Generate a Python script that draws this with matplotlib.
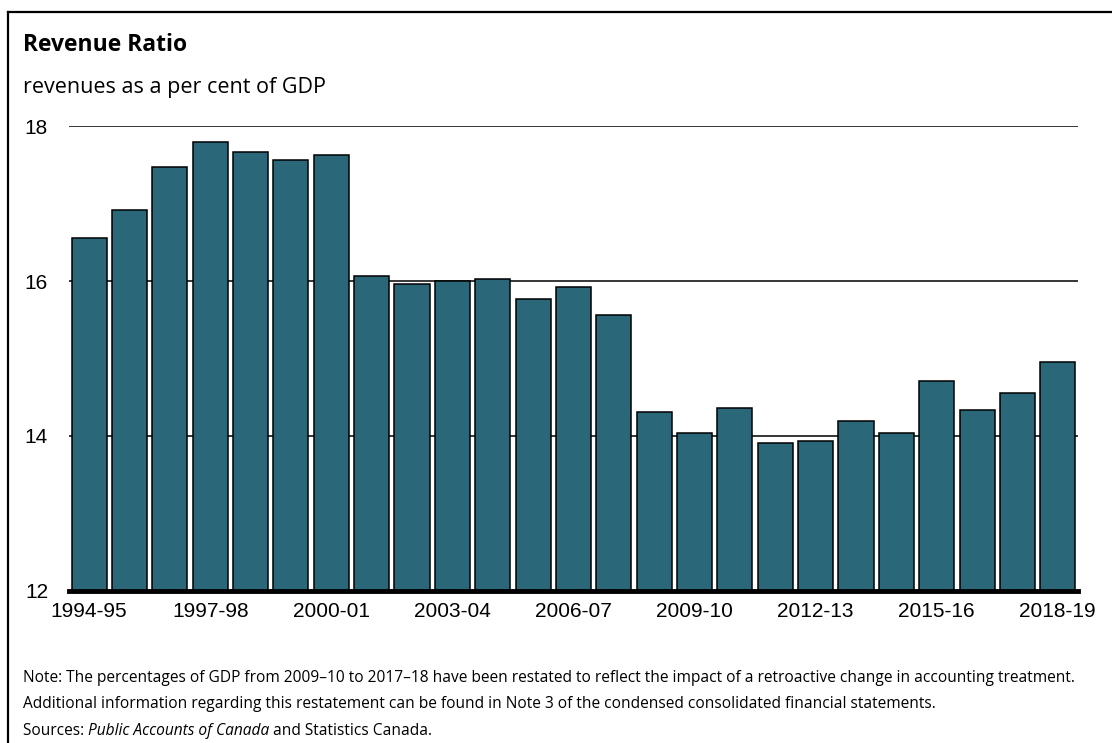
import numpy as np
import matplotlib
matplotlib.use("Agg")
import matplotlib.pyplot as plt
from matplotlib.lines import Line2D

# fiscal years and revenue ratio (per cent of GDP)
years = ["1994-95", "1995-96", "1996-97", "1997-98", "1998-99", "1999-00",
         "2000-01", "2001-02", "2002-03", "2003-04", "2004-05", "2005-06",
         "2006-07", "2007-08", "2008-09", "2009-10", "2010-11", "2011-12",
         "2012-13", "2013-14", "2014-15", "2015-16", "2016-17", "2017-18",
         "2018-19"]
ratio = [16.55, 16.91, 17.47, 17.79, 17.66, 17.56, 17.62, 16.07, 15.96,
         16.00, 16.03, 15.77, 15.92, 15.56, 14.31, 14.04, 14.36, 13.91,
         13.94, 14.19, 14.04, 14.71, 14.34, 14.55, 14.96]
y_ticks = [12, 14, 16, 18]

bar_color = "#2a6778"
tick_font = "Liberation Sans"
text_font = ["Open Sans", "DejaVu Sans"]

W, H = 1112, 743
fig = plt.figure(figsize=(W / 100, H / 100), dpi=100)
ax = fig.add_axes([0.062, 0.2046, 0.9074, 0.6258])

x = np.arange(len(years))
ax.bar(x, ratio, width=0.87, color=bar_color, edgecolor="black",
       linewidth=1.1, zorder=3)

ax.set_xlim(-0.5, len(years) - 0.5)
ax.set_ylim(12, 18)
ax.set_yticks(y_ticks)
ax.set_yticklabels([str(t) for t in y_ticks], family=tick_font, fontsize=15)
ax.set_xticks(x[::3])
ax.set_xticklabels(years[::3], family=tick_font, fontsize=15)
ax.tick_params(axis="y", length=0, pad=15)
ax.tick_params(axis="x", length=0, pad=8)

for t in y_ticks[1:]:
    ax.axhline(t, color="black", linewidth=1.1, zorder=1)

for s in ["top", "right", "left"]:
    ax.spines[s].set_visible(False)
ax.spines["bottom"].set_linewidth(3.5)
ax.spines["bottom"].set_zorder(4)

# frame: top and left rules only
fig.add_artist(Line2D([8 / W, 1.0], [1 - 12 / H] * 2,
                      transform=fig.transFigure, color="black", linewidth=1.6))
fig.add_artist(Line2D([8 / W] * 2, [0.0, 1 - 12 / H],
                      transform=fig.transFigure, color="black", linewidth=1.6))

fig.text(23 / W, 1 - 45 / H, "Revenue Ratio", family=text_font,
         fontsize=16.5, fontweight="bold", va="center")
fig.text(23 / W, 1 - 88 / H, "revenues as a per cent of GDP",
         family=text_font, fontsize=15.5, va="center")

note = ("Note: The percentages of GDP from 2009\u201310 to 2017\u201318 have been "
        "restated to reflect the impact of a retroactive change in accounting treatment.")
note2 = ("Additional information regarding this restatement can be found in Note 3 "
         "of the condensed consolidated financial statements.")
fs_note = 11.2
fig.text(23 / W, 1 - 678 / H, note, family=text_font, fontsize=fs_note,
         va="center")
fig.text(23 / W, 1 - 704 / H, note2, family=text_font, fontsize=fs_note,
         va="center")

# sources line with the italic title set in its own run
fig.canvas.draw()
renderer = fig.canvas.get_renderer()
xpos = 23 / W
for part, style in [("Sources: ", "normal"), ("Public Accounts of Canada", "italic"),
                    (" and Statistics Canada.", "normal")]:
    t = fig.text(xpos, 1 - 731 / H, part, family=text_font, fontsize=fs_note,
                 style=style, va="center")
    bb = t.get_window_extent(renderer=renderer)
    xpos += bb.width / W

fig.savefig("out.png", dpi=100)
